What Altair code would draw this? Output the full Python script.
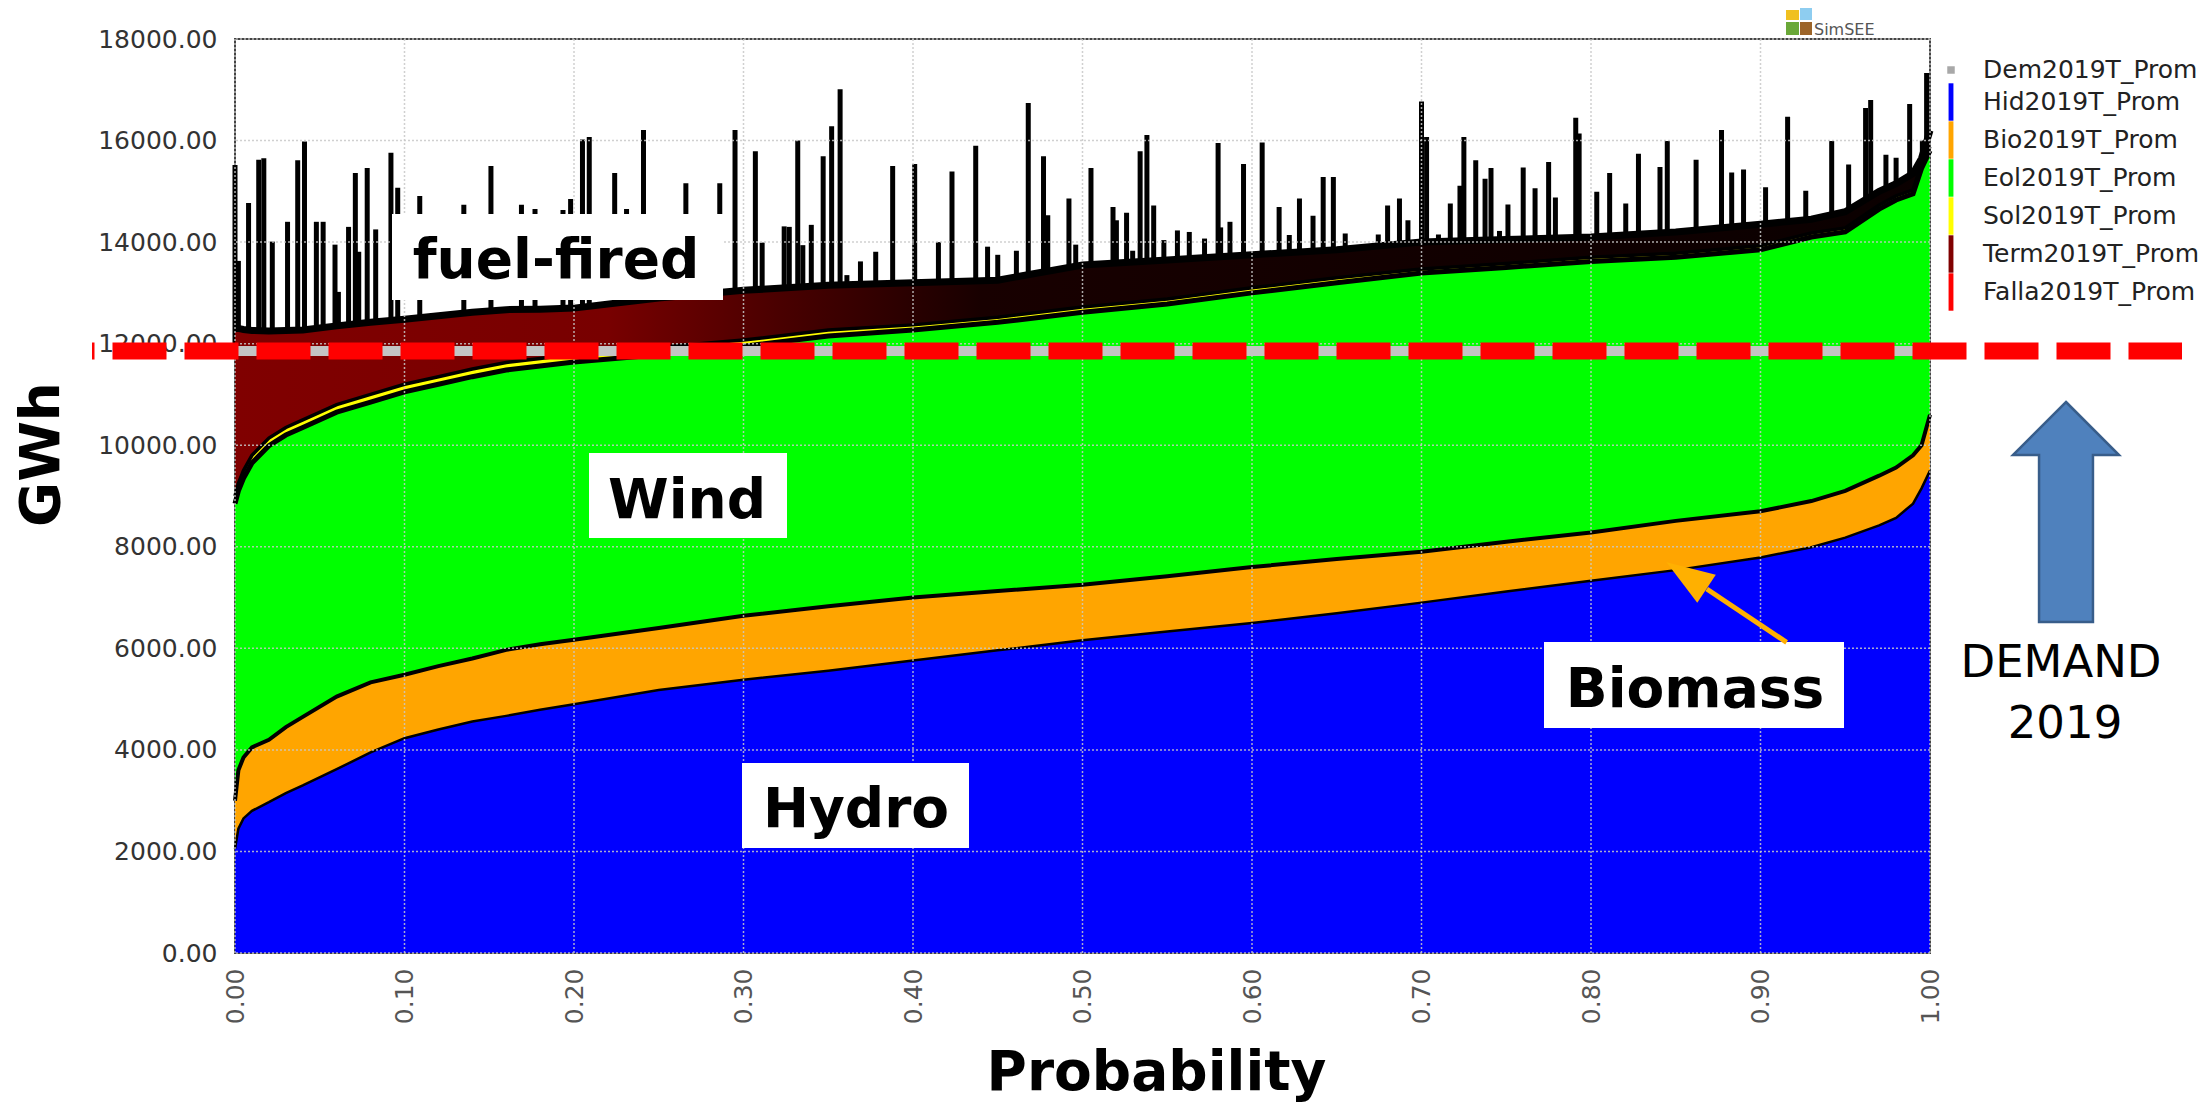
import altair as alt
import pandas as pd

# ---------------- data ----------------
prob = [0, 0.002, 0.005, 0.01, 0.02, 0.03, 0.04, 0.06, 0.08, 0.10,
        0.12, 0.14, 0.16, 0.18, 0.20, 0.25, 0.30, 0.35, 0.40, 0.45,
        0.50, 0.55, 0.60, 0.65, 0.70, 0.75, 0.80, 0.85, 0.90, 0.93,
        0.95, 0.97, 0.98, 0.99, 0.995, 1.0]
hydro = [2050, 2450, 2650, 2800, 2970, 3150, 3300, 3620, 3950, 4230,
         4400, 4560, 4670, 4790, 4900, 5180, 5380, 5560, 5760, 5960,
         6160, 6330, 6500, 6690, 6900, 7120, 7330, 7540, 7790, 7990,
         8180, 8420, 8570, 8850, 9150, 9500]
bio = [950, 1150, 1200, 1250, 1230, 1300, 1350, 1430, 1380, 1250,
       1250, 1240, 1300, 1290, 1270, 1220, 1260, 1270, 1240, 1170,
       1090, 1090, 1100, 1070, 1000, 980, 950, 970, 910, 910,
       920, 980, 990, 950, 850, 1100]
wind = [5850, 5500, 5500, 5600, 5790, 5750, 5700, 5600, 5520, 5570,
        5550, 5550, 5510, 5480, 5470, 5380, 5310, 5320, 5270, 5290,
        5370, 5360, 5400, 5440, 5490, 5400, 5340, 5190, 5150, 5200,
        5100, 5250, 5270, 5150, 5450, 5200]
solar = [150, 150, 150, 150, 150, 150, 150, 150, 150, 150,
         150, 150, 150, 150, 150, 150, 120, 120, 100, 100,
         100, 100, 100, 100, 80, 80, 80, 80, 80, 80,
         80, 80, 80, 80, 80, 80]
term = [3300, 3050, 2780, 2460, 2110, 1910, 1770, 1550, 1420, 1280,
        1200, 1120, 1040, 970, 910, 970, 980, 880, 830, 730,
        830, 770, 650, 550, 530, 470, 400, 420, 420, 270,
        320, 270, 240, 320, 120, 320]

# peaks of the black spikes on top of the total
spike_p = [0.000, 0.002, 0.008, 0.014, 0.017, 0.022, 0.031, 0.037, 0.041, 0.048,
           0.052, 0.059, 0.061, 0.067, 0.071, 0.073, 0.078, 0.083, 0.092, 0.096,
           0.109, 0.135, 0.151, 0.169, 0.177, 0.1935, 0.198, 0.205, 0.209, 0.224,
           0.231, 0.241, 0.266, 0.286, 0.295, 0.307, 0.311, 0.324, 0.327, 0.332,
           0.335, 0.340, 0.347, 0.352, 0.357, 0.361, 0.369, 0.378, 0.388, 0.401,
           0.409, 0.415, 0.423, 0.437, 0.444, 0.450, 0.461, 0.468, 0.477, 0.4795,
           0.492, 0.496, 0.505, 0.518, 0.520, 0.526, 0.5296, 0.534, 0.538, 0.542,
           0.548, 0.556, 0.563, 0.572, 0.580, 0.5815, 0.587, 0.595, 0.600, 0.606,
           0.616, 0.622, 0.628, 0.636, 0.642, 0.648, 0.655, 0.662, 0.6745, 0.680,
           0.687, 0.692, 0.700, 0.703, 0.710, 0.717, 0.7227, 0.725, 0.732, 0.7375,
           0.741, 0.746, 0.751, 0.760, 0.767, 0.775, 0.779, 0.791, 0.793, 0.8034,
           0.811, 0.8205, 0.828, 0.8407, 0.845, 0.862, 0.877, 0.883, 0.890, 0.903,
           0.916, 0.9267, 0.942, 0.952, 0.962, 0.965, 0.974, 0.980, 0.988, 0.9955,
           0.998]
spike_peak = [15520, 13630, 14770, 15620, 15650, 14010, 14400, 15610, 15980, 14400,
              14400, 13950, 13020, 14300, 15360, 13810, 15460, 14250, 15760, 15070,
              14910, 14735, 15500, 14735, 14650, 14630, 14850, 16020, 16070, 15360,
              14650, 16210, 15160, 15160, 16210, 15790, 13990, 14310, 14300, 16000,
              13940, 14340, 15690, 16280, 17010, 13350, 13620, 13810, 15500, 15540,
              13250, 14000, 15390, 15900, 13910, 13750, 13830, 16740, 15690, 14530,
              14860, 13950, 15460, 14690, 14430, 14580, 13830, 15790, 16110, 14720,
              14040, 14230, 14200, 14070, 15950, 14290, 14400, 15540, 13720, 15960,
              14690, 14140, 14860, 14520, 15280, 15280, 14170, 13900, 14150, 14720,
              14860, 14430, 16770, 16070, 14150, 14760, 15110, 16070, 15610, 15250,
              15460, 14220, 14740, 15470, 15060, 15580, 14880, 16450, 16140, 14990,
              15360, 14760, 15740, 15480, 15990, 15620, 16210, 15370, 15430, 15080,
              16470, 15010, 15990, 15530, 16640, 16800, 15720, 15660, 16720, 16000,
              17330]

demand_2019 = 11855

series_names = ["Dem2019T_Prom", "Hid2019T_Prom", "Bio2019T_Prom", "Eol2019T_Prom",
                "Sol2019T_Prom", "Term2019T_Prom", "Falla2019T_Prom"]
series_colors = ["#a8a8a8", "#0000ff", "#ffa500", "#00ff00", "#ffff00", "#800000", "#ff0000"]

x_ticks = [0.0, 0.1, 0.2, 0.3, 0.4, 0.5, 0.6, 0.7, 0.8, 0.9, 1.0]
y_ticks = [0, 2000, 4000, 6000, 8000, 10000, 12000, 14000, 16000, 18000]

# ---------------- tables ----------------
df = pd.DataFrame({"p": prob, "hydro": hydro, "bio": bio, "wind": wind,
                   "solar": solar, "term": term})
df["t0"] = 0
df["t_hyd"] = df["hydro"]
df["t_bio"] = df["t_hyd"] + df["bio"]
df["t_eol"] = df["t_bio"] + df["wind"]
df["t_sol"] = df["t_eol"] + df["solar"]
df["t_ter"] = df["t_sol"] + df["term"]

spikes = pd.DataFrame({"p": spike_p, "peak": spike_peak})
spikes["base"] = 12000
legend_df = pd.DataFrame({"name": series_names})
legend_df["p"] = 0.5
legend_df["v"] = 1000
one = pd.DataFrame({"a": [0]})
dem_df = pd.DataFrame({"v": [demand_2019]})
xg = pd.DataFrame({"v": x_ticks})
yg = pd.DataFrame({"v": y_ticks})

XS = alt.Scale(domain=[0, 1], nice=False, zero=False)
YS = alt.Scale(domain=[0, 18000], nice=False)

FONT = "DejaVu Sans"

x_axis = alt.Axis(values=x_ticks, format=".2f", labelAngle=270, labelFontSize=25,
                  labelFont=FONT, labelColor="#555555", labelPadding=15, ticks=False,
                  domain=False, grid=False, labelFlush=False, labelOverlap=False,
                  title="Probability", titleFont=FONT, titleFontSize=55,
                  titleFontWeight="bold", titleColor="black", titleX=921, titleY=136,
                  titleAlign="center", titleBaseline="alphabetic")
y_axis = alt.Axis(values=y_ticks, format=".2f", labelFontSize=25, labelFont=FONT,
                  labelColor="#333333", labelPadding=18, ticks=False, domain=False,
                  grid=False, labelFlush=False, labelOverlap=False,
                  title="GWh", titleFont=FONT, titleFontSize=55, titleFontWeight="bold",
                  titleColor="black", titleAngle=270, titleX=-177, titleY=415,
                  titleAlign="center", titleBaseline="alphabetic")


def X(field):
    return alt.X(field, type="quantitative", scale=XS, axis=x_axis)


def Y(field):
    return alt.Y(field, type="quantitative", scale=YS, axis=y_axis)


# legend (dummy points hidden beneath the hydro area)
legend_shapes = ["M -0.2 -0.2 L 0.2 -0.2 L 0.2 0.2 L -0.2 0.2 Z"] + \
                ["M -0.13 -1 L 0.13 -1 L 0.13 1 L -0.13 1 Z"] * 6
legend_layer = alt.Chart(legend_df).mark_point(filled=True, size=1400, opacity=1).encode(
    x=X("p"), y=Y("v"),
    color=alt.Color("name:N", scale=alt.Scale(domain=series_names, range=series_colors),
                    legend=alt.Legend(title=None, orient="none", legendX=1697, legendY=12,
                                      labelFont=FONT, labelFontSize=25, labelColor="#222222",
                                      symbolSize=1400, rowPadding=0, padding=0, labelOffset=13,
                                      symbolStrokeWidth=0, labelLimit=500)),
    shape=alt.Shape("name:N", scale=alt.Scale(domain=series_names, range=legend_shapes)),
)

spike_layer = alt.Chart(spikes).mark_rule(color="black", strokeWidth=5).encode(
    x=X("p"), y=Y("peak"), y2=alt.Y2("base"))

term_fill = alt.LinearGradient(
    gradient="linear", x1=0, x2=1, y1=0, y2=0,
    stops=[alt.GradientStop(color="#800000", offset=0),
           alt.GradientStop(color="#780000", offset=0.22),
           alt.GradientStop(color="#4a0000", offset=0.32),
           alt.GradientStop(color="#180000", offset=0.44),
           alt.GradientStop(color="#0a0000", offset=1)])

base = alt.Chart(df)
areas = []
bounds = [("t0", "t_hyd", "#0000ff"), ("t_hyd", "t_bio", "#ffa500"),
          ("t_bio", "t_eol", "#00ff00"), ("t_eol", "t_sol", "#ffff00"),
          ("t_sol", "t_ter", term_fill)]
for lo, hi, col in bounds:
    areas.append(base.mark_area(color=col, opacity=1, interpolate="linear").encode(
        x=X("p"), y=Y(hi), y2=alt.Y2(lo)))

lines = []
for fld, w in [("t_hyd", 2.5), ("t_bio", 4), ("t_eol", 5), ("t_sol", 3.5), ("t_ter", 7)]:
    lines.append(base.mark_line(color="black", strokeWidth=w, interpolate="linear").encode(
        x=X("p"), y=Y(fld)))

grid_x = alt.Chart(xg).mark_rule(color="#c8c8c8", strokeWidth=1.5, strokeDash=[2, 2],
                                 opacity=0.85).encode(x=X("v"))
grid_y = alt.Chart(yg).mark_rule(color="#c8c8c8", strokeWidth=1.5, strokeDash=[2, 2],
                                 opacity=0.85).encode(y=Y("v"))

grey_band = alt.Chart(dem_df).mark_rule(color="#c4c4c4", strokeWidth=10).encode(
    x=alt.value(0), x2=alt.value(1695), y=Y("v"))
red_dash = alt.Chart(dem_df).mark_rule(color="#ff0000", strokeWidth=17, strokeDash=[54, 18],
                                       strokeDashOffset=51.5).encode(
    x=alt.value(-143), x2=alt.value(1947), y=Y("v"))

# annotation boxes and labels
ann_text = ["fuel-fired", "Wind", "Hydro", "Biomass"]
ann_box = [(157, 488, 175, 261), (354, 552, 414, 499), (507, 734, 724, 809), (1309, 1609, 603, 689)]
ann_pos = [(321, 239), (452, 479), (621, 788), (1460, 668)]
ann_layers = []
for t, (x1, x2, y1, y2), (tx, ty) in zip(ann_text, ann_box, ann_pos):
    ann_layers.append(alt.Chart(one).mark_rect(color="white", opacity=1).encode(
        x=alt.value(x1), x2=alt.value(x2), y=alt.value(y1), y2=alt.value(y2)))
    ann_layers.append(alt.Chart(one).mark_text(
        text=t, font=FONT, fontWeight="bold", fontSize=55, color="black",
        align="center", baseline="alphabetic").encode(x=alt.value(tx), y=alt.value(ty)))

bio_arrow_line = alt.Chart(one).mark_rule(color="#ffb000", strokeWidth=5).encode(
    x=alt.value(1551.6), y=alt.value(603.3), x2=alt.value(1471.8), y2=alt.value(550))
bio_arrow_head = alt.Chart(one).mark_point(
    shape="M 0 0 L 0.35 1 L -0.35 1 Z", filled=True, size=9216, angle=303.5,
    color="#ffb000", opacity=1).encode(x=alt.value(1431.5), y=alt.value(523.3))

demand_arrow = alt.Chart(one).mark_point(
    shape="M 0 -1 L 0.482 -0.518 L 0.245 -0.518 L 0.245 1 L -0.245 1 L -0.245 -0.518 L -0.482 -0.518 Z",
    filled=True, size=48400, fill="#4f81bd", stroke="#385d8a", strokeWidth=2.5,
    opacity=1).encode(x=alt.value(1831), y=alt.value(473))
demand_txt = ["DEMAND", "2019"]
demand_layers = [
    alt.Chart(one).mark_text(text=demand_txt[0], font=FONT, fontSize=45, color="black",
                             align="center", baseline="alphabetic").encode(
        x=alt.value(1826), y=alt.value(638)),
    alt.Chart(one).mark_text(text=demand_txt[1], font=FONT, fontSize=45, color="black",
                             align="center", baseline="alphabetic").encode(
        x=alt.value(1830), y=alt.value(699)),
]

logo = [
    alt.Chart(one).mark_rect(color="#f0c020").encode(x=alt.value(1551), x2=alt.value(1564), y=alt.value(-29), y2=alt.value(-19)),
    alt.Chart(one).mark_rect(color="#8ecdf0").encode(x=alt.value(1565), x2=alt.value(1577), y=alt.value(-31), y2=alt.value(-19)),
    alt.Chart(one).mark_rect(color="#6aa838").encode(x=alt.value(1551), x2=alt.value(1564), y=alt.value(-17), y2=alt.value(-4)),
    alt.Chart(one).mark_rect(color="#9c6428").encode(x=alt.value(1565), x2=alt.value(1577), y=alt.value(-17), y2=alt.value(-4)),
    alt.Chart(one).mark_text(text="SimSEE", font=FONT, fontSize=16, color="#555555",
                             align="left", baseline="alphabetic").encode(
        x=alt.value(1579), y=alt.value(-4)),
]

chart = alt.layer(
    legend_layer, spike_layer, *areas, *lines, grid_x, grid_y, grey_band, red_dash,
    *ann_layers, bio_arrow_line, bio_arrow_head, demand_arrow, *demand_layers, *logo
).properties(
    width=1695, height=914,
    autosize=alt.AutoSizeParams(type="none"),
    padding={"left": 227, "top": 31, "right": 270, "bottom": 152},
    background="white",
).configure_view(stroke="#444444", strokeWidth=2)

chart.save("out.html", embed_options={"renderer": "svg", "actions": False})
